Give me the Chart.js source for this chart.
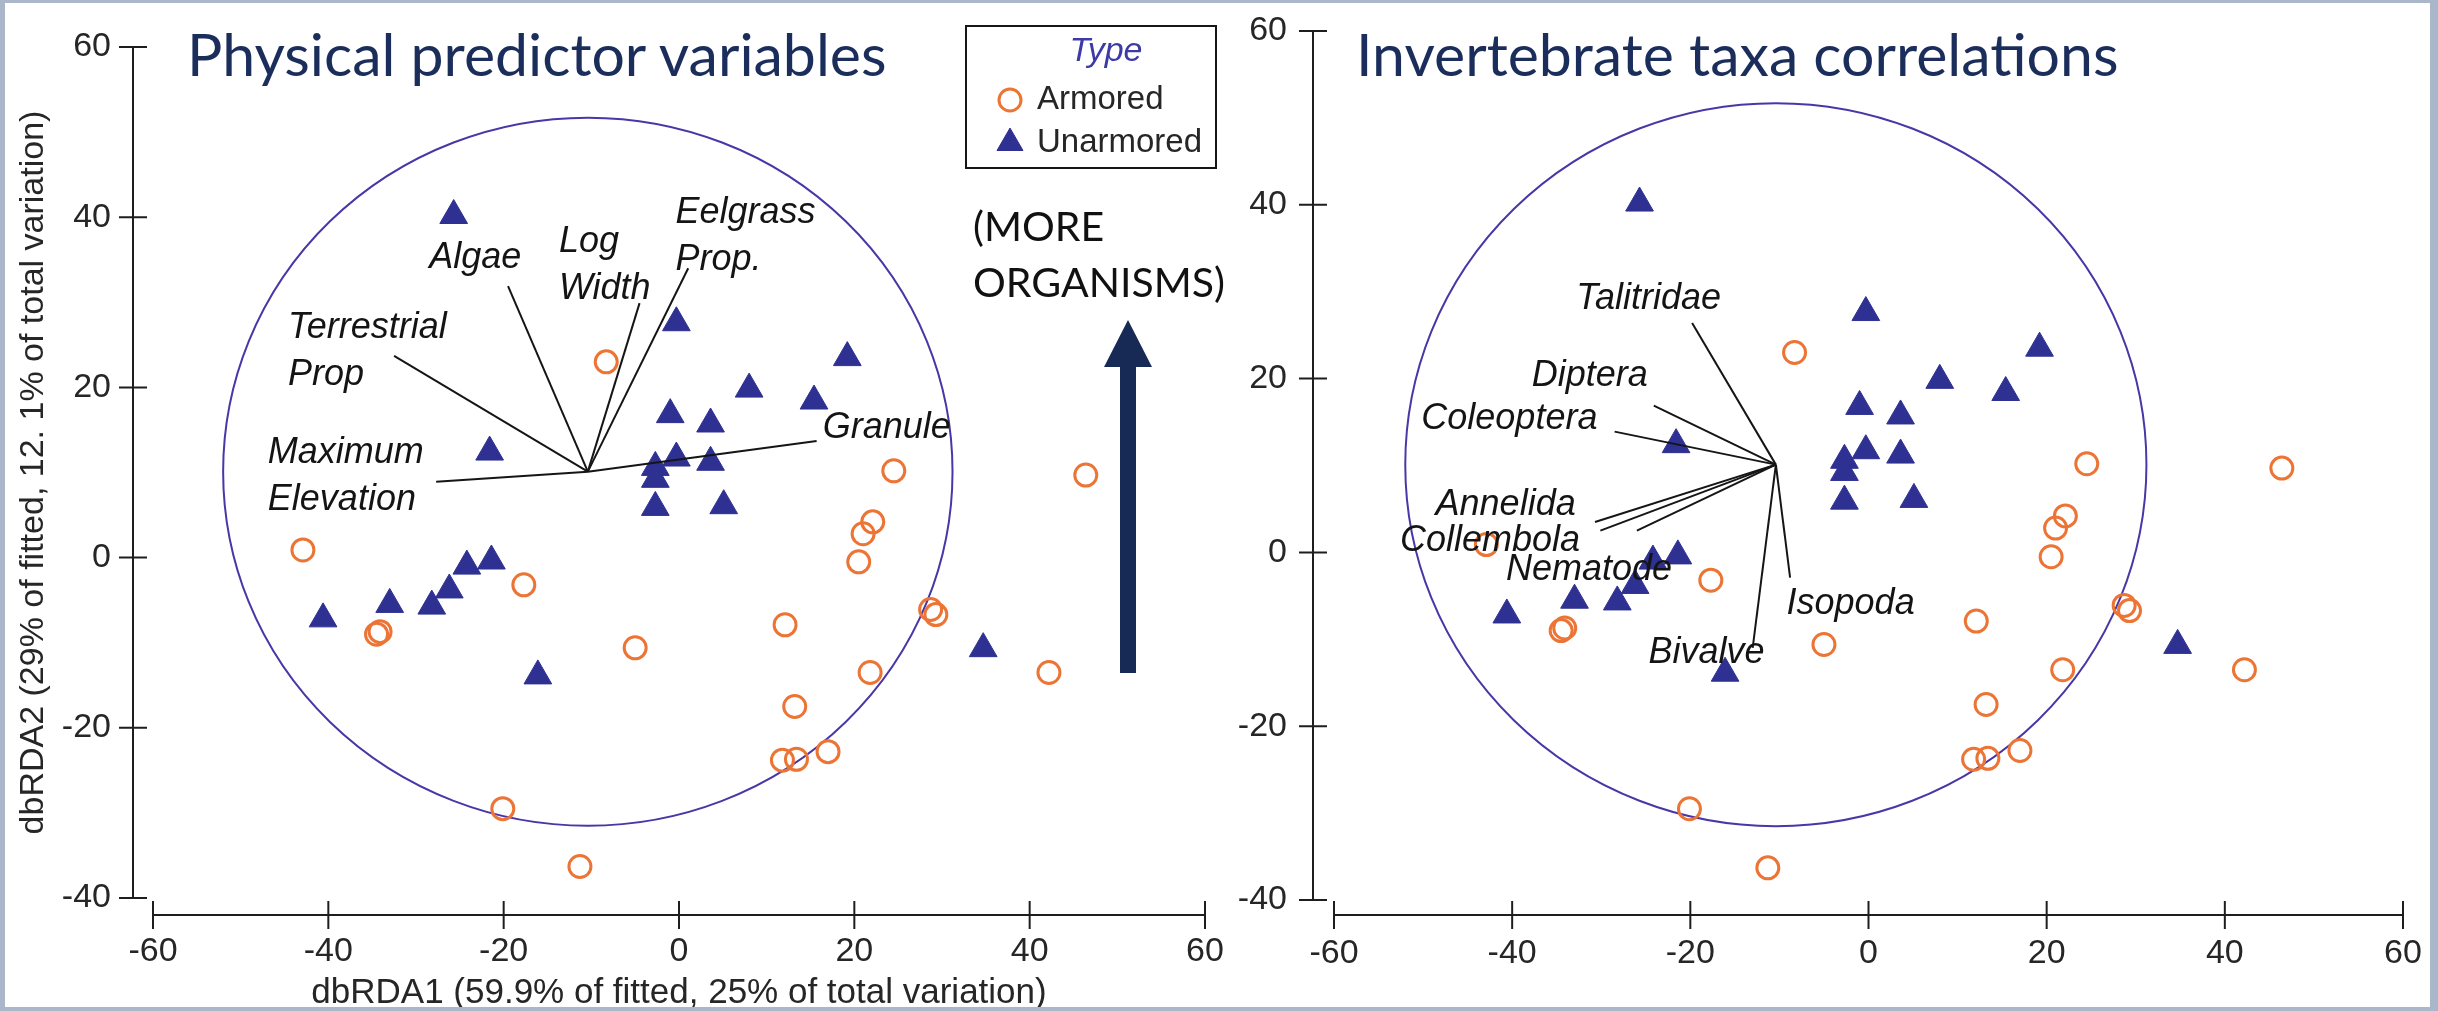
<!DOCTYPE html>
<html>
<head>
<meta charset="utf-8">
<title>dbRDA ordination of sites</title>
<script src="https://cdn.jsdelivr.net/npm/chart.js@4.4.1/dist/chart.umd.min.js"></script>
<style>
  html, body { margin: 0; padding: 0; background: #ffffff; }
  body { width: 2438px; height: 1011px; position: relative; overflow: hidden; }
  .panel { position: absolute; top: 0; height: 1011px; overflow: hidden; background: #ffffff; }
  #leftPanel { left: 0; width: 1228px; }
  #rightPanel { left: 1228px; width: 1210px; }
  canvas { position: absolute; left: 0; top: 0; }
  .slide-title {
    position: absolute; margin: 0; white-space: nowrap;
    font-family: Lato, "Open Sans", sans-serif; font-size: 59px; line-height: 1;
    color: #1b2d5b;
  }
  #note {
    position: absolute; left: 973px; top: 198px; margin: 0; white-space: nowrap;
    font-family: Lato, "Open Sans", sans-serif; font-size: 41px; line-height: 56px; color: #111111;
  }
  #arrow { position: absolute; left: 1100px; top: 315px; }
  #frame {
    position: absolute; left: 0; top: 0; width: 2438px; height: 1011px; box-sizing: border-box;
    border-style: solid; border-color: #aab6c9; border-width: 3px 8px 4px 5px; pointer-events: none;
  }
</style>
</head>
<body>
<div class="panel" id="leftPanel">
  <canvas id="physical" width="1228" height="1011"></canvas>
  <div class="slide-title" style="left:187px; top:24px;">Physical predictor variables</div>
  <div id="note">(MORE<br>ORGANISMS)</div>
  <svg id="arrow" width="60" height="370" viewBox="0 0 60 370">
    <polygon points="28,5 52,52 4,52" fill="#172a56"/>
    <rect x="20" y="50" width="16" height="308" fill="#172a56"/>
  </svg>
</div>
<div class="panel" id="rightPanel">
  <canvas id="taxa" width="1210" height="1011"></canvas>
  <div class="slide-title" style="left:128px; top:24px;">Invertebrate taxa correlations</div>
</div>
<div id="frame"></div>

<script>
// Site scores on the first two dbRDA axes
const armoredX = [-8.3, 24.5, 46.4, 22.1, 21.0, 20.5, -42.9, -17.7, -34.5, -34.1, -5.0,
                  12.1, 28.7, 29.3, 21.8, 42.2, 13.2, 11.8, 13.4, 17.0, -20.1, -11.3];
const armoredY = [23.0, 10.2, 9.7, 4.2, 2.8, -0.5, 0.9, -3.2, -9.0, -8.7, -10.6,
                  -7.9, -6.1, -6.7, -13.5, -13.5, -17.5, -23.8, -23.7, -22.8, -29.5, -36.3];
const unarmoredX = [-25.7, -0.3, 19.2, 8.0, 15.4, -1.0, 3.6, -21.6, -0.3, 3.6, -2.7,
                    -2.7, -2.7, 5.1, -21.4, -24.2, -26.2, -28.2, -33.0, -40.6, -16.1, 34.7];
const unarmoredY = [40.2, 27.6, 23.5, 19.8, 18.4, 16.8, 15.7, 12.4, 11.7, 11.2, 10.6,
                    9.2, 5.9, 6.1, -0.4, -1.0, -3.8, -5.7, -5.5, -7.2, -13.9, -10.7];

// Correlation circle and vector origin
const circleCenter = { x: -10.4, y: 10.1 };
const circleRadius = 41.6;

// Physical predictor vectors (end points)
const physicalNames = ['Maximum\nElevation', 'Terrestrial\nProp', 'Algae', 'Log\nWidth', 'Eelgrass\nProp.', 'Granule'];
const physicalX = [-27.7, -32.5, -19.5, -4.5, 1.05, 15.7];
const physicalY = [8.9, 23.7, 31.9, 29.9, 34.0, 13.7];

// Invertebrate taxa vectors (end points)
const taxaNames = ['Talitridae', 'Diptera', 'Coleoptera', 'Annelida', 'Collembola', 'Nematode', 'Isopoda', 'Bivalve'];
const taxaX = [-19.8, -24.1, -28.5, -30.7, -30.1, -26.0, -8.8, -13.0];
const taxaY = [26.4, 16.9, 13.9, 3.5, 2.5, 2.5, -2.9, -11.0];

// Axis tick values
const xTicks = [-60, -40, -20, 0, 20, 40, 60];
const yTicks = [-40, -20, 0, 20, 40, 60];

// Where each vector name is written: left edge and first-line centre, in axis units
const physicalLabelAt = [[-46.9, 12.3], [-44.6, 27.0], [-28.5, 35.2], [-13.7, 37.1], [-0.4, 40.5], [16.4, 15.2]];
const taxaLabelAt = [[-32.8, 29.2], [-37.8, 20.3], [-50.2, 15.3], [-48.6, 5.5], [-52.6, 1.3], [-40.7, -2.0], [-9.2, -5.9], [-24.7, -11.6]];

const FONT = "'Liberation Sans', Arial, Helvetica, sans-serif";
const INK = '#262626';
const ORANGE = '#ec7434';
const NAVY = '#2e3192';

function pairs(xs, ys) { return xs.map((x, i) => ({ x, y: ys[i] })); }

function siteDatasets() {
  return [
    { type: 'scatter', label: 'Armored', data: pairs(armoredX, armoredY),
      pointStyle: 'circle', pointRadius: 11, borderWidth: 3,
      borderColor: ORANGE, backgroundColor: 'rgba(0,0,0,0)', order: 2 },
    { type: 'scatter', label: 'Unarmored', data: pairs(unarmoredX, unarmoredY),
      pointStyle: 'triangle', pointRadius: 16, borderWidth: 1,
      borderColor: NAVY, backgroundColor: NAVY, order: 1 }
  ];
}

function vectorDatasets(names, xs, ys) {
  return names.map((name, i) => ({
    type: 'line', label: name,
    data: [{ x: circleCenter.x, y: circleCenter.y }, { x: xs[i], y: ys[i] }],
    borderColor: '#151515', borderWidth: 2, pointRadius: 0, showLine: true, fill: false, order: 0
  }));
}

// Correlation circle, drawn under the points
const corrCircle = {
  id: 'corrCircle',
  beforeDatasetsDraw(chart) {
    const { ctx, scales: { x, y } } = chart;
    const cx = x.getPixelForValue(circleCenter.x);
    const cy = y.getPixelForValue(circleCenter.y);
    const rx = x.getPixelForValue(circleCenter.x + circleRadius) - cx;
    const ry = cy - y.getPixelForValue(circleCenter.y + circleRadius);
    ctx.save();
    ctx.beginPath();
    ctx.ellipse(cx, cy, rx, ry, 0, 0, Math.PI * 2);
    ctx.strokeStyle = '#4a36a6';
    ctx.lineWidth = 2;
    ctx.stroke();
    ctx.restore();
  }
};

function vectorLabels(names, at) {
  return {
    id: 'vectorLabels',
    afterDatasetsDraw(chart) {
      const { ctx, scales: { x, y } } = chart;
      ctx.save();
      ctx.font = `italic 36px ${FONT}`;
      ctx.fillStyle = '#141414';
      ctx.textAlign = 'left';
      ctx.textBaseline = 'middle';
      names.forEach((name, i) => {
        const px = x.getPixelForValue(at[i][0]);
        const py = y.getPixelForValue(at[i][1]);
        name.split('\n').forEach((line, k) => ctx.fillText(line, px, py + k * 47));
      });
      ctx.restore();
    }
  };
}

// Axes drawn apart from the plotting region, with crossing tick marks
function detachedAxes(gapY, gapX) {
  return {
    id: 'detachedAxes',
    afterDraw(chart) {
      const { ctx, chartArea: a, scales: { x, y } } = chart;
      const ax = a.left - gapY;
      const ay = a.bottom + gapX;
      const t = 14;
      ctx.save();
      ctx.strokeStyle = '#1e1e1e';
      ctx.lineWidth = 2;
      ctx.beginPath();
      ctx.moveTo(ax, y.getPixelForValue(yTicks[yTicks.length - 1]));
      ctx.lineTo(ax, y.getPixelForValue(yTicks[0]));
      yTicks.forEach(v => { const p = y.getPixelForValue(v); ctx.moveTo(ax - t, p); ctx.lineTo(ax + t, p); });
      ctx.moveTo(x.getPixelForValue(xTicks[0]), ay);
      ctx.lineTo(x.getPixelForValue(xTicks[xTicks.length - 1]), ay);
      xTicks.forEach(v => { const p = x.getPixelForValue(v); ctx.moveTo(p, ay - t); ctx.lineTo(p, ay + t); });
      ctx.stroke();
      ctx.restore();
    }
  };
}

// Boxed key for the two site groups
const typeKey = {
  id: 'typeKey',
  afterDraw(chart) {
    const ctx = chart.ctx;
    const left = 966, top = 26, w = 250, h = 142;
    ctx.save();
    ctx.fillStyle = '#ffffff';
    ctx.fillRect(left, top, w, h);
    ctx.strokeStyle = '#161616';
    ctx.lineWidth = 2;
    ctx.strokeRect(left, top, w, h);
    ctx.font = `italic 34px ${FONT}`;
    ctx.fillStyle = '#3d3aa8';
    ctx.textAlign = 'center';
    ctx.textBaseline = 'middle';
    ctx.fillText('Type', 1106, 52);
    chart.data.datasets.slice(0, 2).forEach((ds, i) => {
      const yy = 100 + i * 43;
      ctx.fillStyle = ds.backgroundColor;
      ctx.strokeStyle = ds.borderColor;
      ctx.lineWidth = ds.borderWidth;
      Chart.helpers.drawPoint(ctx, { pointStyle: ds.pointStyle, radius: ds.pointStyle === 'triangle' ? 15 : 11,
                                     borderWidth: ds.borderWidth, rotation: 0 }, 1010, yy);
      ctx.fillStyle = INK;
      ctx.font = `33px ${FONT}`;
      ctx.textAlign = 'left';
      ctx.fillText(ds.label, 1037, yy);
    });
    ctx.restore();
  }
};

// Fixed scale box sizes; label overhang is allowed into the margins
function fixBox(s, key, size) {
  s[key] = size;
  s.paddingLeft = 0; s.paddingRight = 0; s.paddingTop = 0; s.paddingBottom = 0;
}

function scales(spec) {
  const tickFont = { family: FONT, size: 34, lineHeight: 1.2 };
  const titleFont = { family: FONT, size: 35, lineHeight: 1 };
  return {
    x: {
      type: 'linear', min: xTicks[0], max: xTicks[xTicks.length - 1],
      afterBuildTicks: s => { s.ticks = xTicks.map(v => ({ value: v })); },
      afterFit: s => fixBox(s, 'height', spec.xHeight),
      grid: { display: false, drawTicks: false },
      border: { display: false },
      ticks: { color: INK, font: tickFont, padding: 33, maxRotation: 0, autoSkip: false, callback: v => String(v) },
      title: spec.xTitle
        ? { display: true, text: spec.xTitle, color: INK, font: titleFont, padding: { top: 0, bottom: 0 } }
        : { display: false }
    },
    y: {
      type: 'linear', min: yTicks[0], max: yTicks[yTicks.length - 1],
      afterBuildTicks: s => { s.ticks = yTicks.map(v => ({ value: v })); },
      afterFit: s => fixBox(s, 'width', spec.yWidth),
      grid: { display: false, drawTicks: false },
      border: { display: false },
      ticks: { color: INK, font: tickFont, padding: spec.yPad, autoSkip: false, callback: v => String(v) },
      title: spec.yTitle
        ? { display: true, text: spec.yTitle, color: INK, font: { family: FONT, size: 34, lineHeight: 1 }, padding: { top: 17, bottom: 0 } }
        : { display: false }
    }
  };
}

function makeChart(id, spec) {
  return new Chart(document.getElementById(id), {
    type: 'scatter',
    data: { datasets: [...siteDatasets(), ...vectorDatasets(spec.names, spec.vx, spec.vy)] },
    options: {
      responsive: false, animation: false, events: [],
      layout: { padding: spec.padding },
      plugins: { legend: { display: false }, tooltip: { enabled: false }, title: { display: false } },
      scales: scales(spec)
    },
    plugins: [corrCircle, vectorLabels(spec.names, spec.labelAt), detachedAxes(spec.gapY, spec.gapX),
              ...(spec.key ? [typeKey] : [])]
  });
}

makeChart('physical', {
  names: physicalNames, vx: physicalX, vy: physicalY, labelAt: physicalLabelAt,
  padding: { left: 0, top: 47, right: 23, bottom: 0 },
  xHeight: 113, yWidth: 153, yPad: 42, gapY: 20, gapX: 17,
  xTitle: 'dbRDA1 (59.9% of fitted, 25% of total variation)',
  yTitle: 'dbRDA2 (29% of fitted, 12. 1% of total variation)',
  key: true
});

makeChart('taxa', {
  names: taxaNames, vx: taxaX, vy: taxaY, labelAt: taxaLabelAt,
  padding: { left: 0, top: 31, right: 35, bottom: 0 },
  xHeight: 111, yWidth: 106, yPad: 47, gapY: 21, gapX: 15,
  key: false
});
</script>
</body>
</html>
